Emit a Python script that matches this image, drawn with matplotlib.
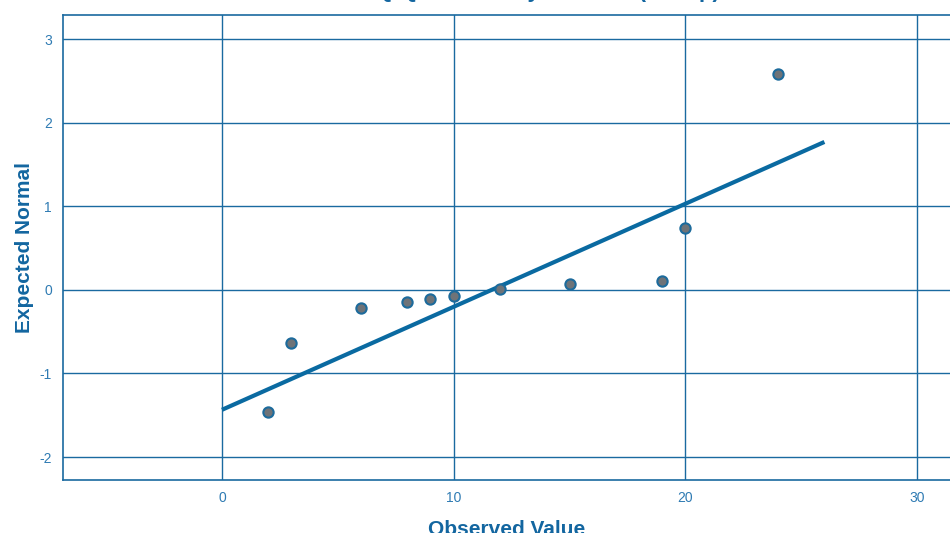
import numpy as np
import matplotlib.pyplot as plt

plt.rcParams["font.family"] = ["Liberation Sans", "DejaVu Sans"]
plt.rcParams["axes.unicode_minus"] = False

observed = [2, 3, 6, 8, 9, 10, 12, 15, 19, 20, 24]
expected = [-1.46, -0.64, -0.22, -0.14, -0.11, -0.07, 0.01, 0.07, 0.11, 0.74, 2.58]
line_x = [0, 26]
intercept, slope = -1.435, 0.1233

blue = "#1a6aa0"
fig = plt.figure(figsize=(9.5, 5.33), dpi=100)
ax = fig.add_axes([63 / 950, 1 - 480 / 533, 1 - 63 / 950, 465 / 533])

ax.set_xlim(-6.86, 31.42)
ax.set_ylim(-2.275, 3.29)
ax.set_xticks([0, 10, 20, 30])
ax.set_yticks([-2, -1, 0, 1, 2, 3])
ax.grid(True, color=blue, lw=1.0)
ax.set_axisbelow(True)
for s in ["left", "bottom", "top"]:
    ax.spines[s].set_color(blue)
    ax.spines[s].set_linewidth(1.2)
ax.spines["right"].set_visible(False)
ax.tick_params(length=0, colors="#2f7bb3", labelsize=10, pad=8)

lx = np.array(line_x)
ax.plot(lx, intercept + slope * lx, color="#0a6aa1", lw=3, solid_capstyle="butt", zorder=2)
ax.scatter(observed, expected, s=55, color="#6e7378", edgecolors="#1d6b9c", linewidths=1.5, zorder=3)

ax.set_ylabel("Expected Normal", color="#1366a0", fontsize=15, fontweight="bold", labelpad=4)
ax.set_xlabel("Observed Value", color="#1366a0", fontsize=15, fontweight="bold", labelpad=11)

# title sits almost entirely above the top edge, as in the cropped original
fig.text(0.533, 1.0 + 3.5 / 533, "Normal Q-Q Plot of Days Absent (Group)", color="#1366a0",
         fontsize=16, fontweight="bold", ha="center", va="baseline")

fig.savefig("out.png", dpi=100)
